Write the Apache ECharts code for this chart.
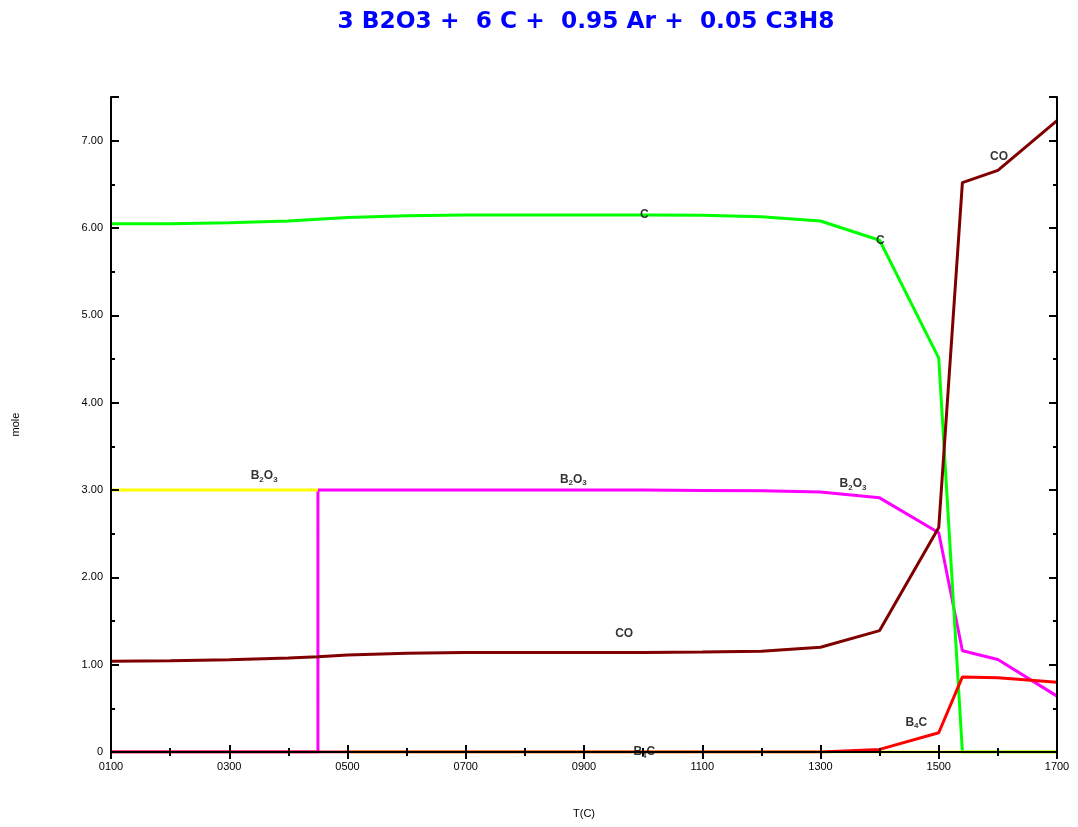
<!DOCTYPE html>
<html><head><meta charset="utf-8">
<script src="https://cdn.jsdelivr.net/npm/echarts@6/dist/echarts.min.js"></script>
<style>html,body{margin:0;padding:0;background:#fff}#c{width:1078px;height:827px}</style>
</head><body><div id="c"></div>
<script>
const title = '3 B2O3 +  6 C +  0.95 Ar +  0.05 C3H8';
const temps = [100,200,300,400,450,450,500,600,700,800,900,1000,1100,1200,1300,1400,1500,1540,1600,1700];
const carbon = [6.05,6.05,6.06,6.08,6.10,6.10,6.12,6.14,6.15,6.15,6.15,6.15,6.145,6.13,6.08,5.86,4.51,0,0,0];
const co = [1.04,1.045,1.055,1.075,1.09,1.09,1.11,1.13,1.14,1.14,1.14,1.14,1.145,1.155,1.20,1.39,2.57,6.52,6.66,7.23];
const b2o3Solid = [3,3,3,3,3,null,0,0,0,0,0,0,0,0,0,0,0,0,0,0];
const b2o3Liquid = [0,0,0,0,0,3.0,3.0,3.0,3.0,3.0,3.0,3.0,2.995,2.99,2.976,2.91,2.51,1.16,1.06,0.64];
const b4c = [0,0,0,0,0,0,0,0,0,0,0,0,0,0,0,0.03,0.22,0.86,0.85,0.80];
const xTicks = {min:100, max:1700, step:200};
const yTicks = {min:0, max:7.5, step:1};
// [T, mole, text] ; subscripts marked with _
const annotations = [
  [359,3.16,'B_2O_3'],[882,3.12,'B_2O_3'],[1355,3.07,'B_2O_3'],
  [1002,6.15,'C'],[1401,5.85,'C'],
  [968,1.36,'CO'],[1602,6.82,'CO'],
  [1462,0.34,'B_4C'],[1002,0.0,'B_4C']
];

const pair = arr => temps.map((t,i)=>[t,arr[i]]);
const font = 'Liberation Sans, Arial, sans-serif';
const lineS = (name,arr,color,z)=>({type:'line',name,data:pair(arr),symbol:'none',z,connectNulls:false,
  lineStyle:{color,width:3},itemStyle:{color},animation:false});
const toRich = s => s.replace(/_(\d)/g,'{s|$1}').replace(/(^|\})([^{]+)/g,(m,a,b)=>a+'{b|'+b+'}');

const chart = echarts.init(document.getElementById('c'),null,{renderer:'canvas'});
const axisCommon = {axisLine:{lineStyle:{color:'#000',width:2}},splitLine:{show:false}};
const tickStyle = {color:'#000',width:2};
chart.setOption({
  backgroundColor:'#fff',
  animation:false,
  title:{text:title,left:581,textAlign:'center',top:5,
    textStyle:{color:'#0000ff',fontSize:23.3,fontWeight:'bold',fontFamily:'DejaVu Sans, sans-serif'}},
  grid:{left:111,right:21,top:97,bottom:75},
  xAxis:[
    Object.assign({type:'value',min:xTicks.min,max:xTicks.max,interval:xTicks.step,position:'bottom',z:8,
      name:'T(C)',nameLocation:'middle',nameGap:56,nameTextStyle:{color:'#000',fontSize:11,fontFamily:font},
      axisTick:{inside:true,length:7,lineStyle:tickStyle},
      minorTick:{show:true,splitNumber:2,length:4,lineStyle:tickStyle},
      axisLabel:{color:'#000',fontSize:11,fontFamily:font,margin:9,
        formatter:v=>String(v).padStart(4,'0')}},axisCommon),
    Object.assign({type:'value',min:xTicks.min,max:xTicks.max,interval:xTicks.step,position:'top',z:8,
      axisTick:{inside:true,length:7,lineStyle:tickStyle},
      minorTick:{show:true,splitNumber:2,length:4,lineStyle:tickStyle},
      axisLabel:{show:false}},axisCommon)
  ],
  yAxis:[
    Object.assign({type:'value',min:yTicks.min,max:yTicks.max,interval:yTicks.step,position:'left',z:8,
      name:'mole',nameLocation:'middle',nameGap:90,nameRotate:90,nameTextStyle:{color:'#000',fontSize:11,fontFamily:font},
      axisTick:{inside:true,length:8,lineStyle:tickStyle},
      minorTick:{show:true,splitNumber:2,length:4,lineStyle:tickStyle},
      axisLabel:{color:'#000',fontSize:11,fontFamily:font,margin:8,showMaxLabel:false,
        formatter:v=>v===0?'0':(Number.isInteger(v)?v.toFixed(2):'')}},axisCommon),
    Object.assign({type:'value',min:yTicks.min,max:yTicks.max,interval:yTicks.step,position:'right',z:8,
      axisTick:{inside:true,length:8,lineStyle:tickStyle},
      minorTick:{show:true,splitNumber:2,length:4,lineStyle:tickStyle},
      axisLabel:{show:false}},axisCommon)
  ],
  series:[
    lineS('B2O3 l',b2o3Liquid,'#ff00ff',1),
    lineS('C',carbon,'#00ff00',2),
    lineS('B2O3 s',b2o3Solid,'#ffff00',3),
    lineS('B4C',b4c,'#ff0000',4),
    lineS('CO',co,'#800000',5),
    {type:'scatter',data:annotations.map(a=>({value:[a[0],a[1]],name:a[2]})),symbolSize:1,z:10,
      itemStyle:{color:'rgba(0,0,0,0)'},
      label:{show:true,position:'inside',formatter:p=>toRich(p.name),
        rich:{b:{color:'#000',fontSize:12,fontWeight:'bold',fontFamily:font},
              s:{color:'#000',fontSize:8,fontWeight:'bold',fontFamily:font,padding:[7,0,0,0]}}}}
  ]
});
</script></body></html>
